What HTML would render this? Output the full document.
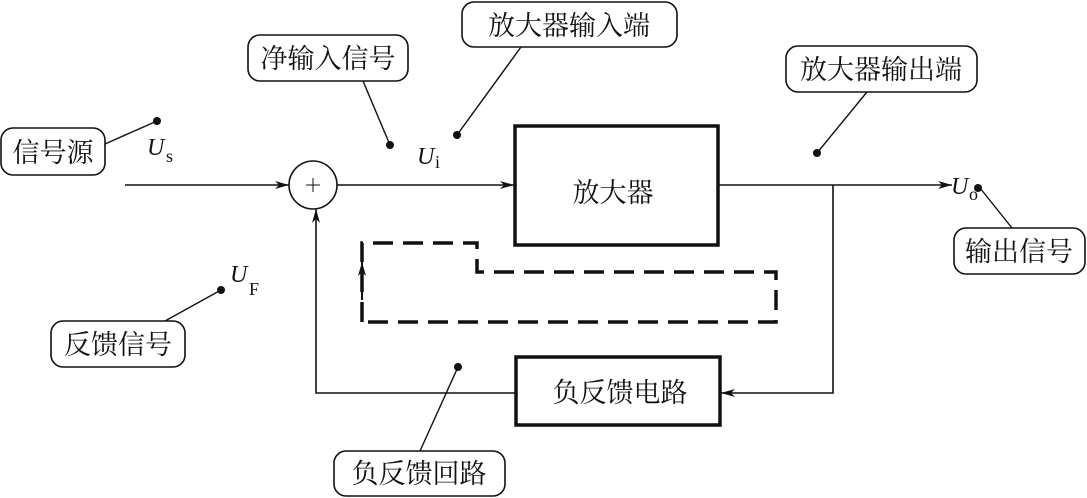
<!DOCTYPE html>
<html><head><meta charset="utf-8"><style>
html,body{margin:0;padding:0;background:#fff;}
svg{display:block;}
text{font-family:"Liberation Serif","Noto Serif CJK SC","Noto Sans CJK SC",serif;fill:#111;}
</style></head><body>
<svg width="1087" height="498" viewBox="0 0 1087 498" xmlns="http://www.w3.org/2000/svg">
<defs>
<marker id="a" viewBox="0 0 14 8" refX="14" refY="4" markerWidth="14" markerHeight="8" markerUnits="userSpaceOnUse" orient="auto">
<path d="M0,0 L14,4 L0,8 L4,4 Z" fill="#111"/></marker>
</defs>
<g stroke="#111" fill="none">
<!-- main lines -->
<line x1="125" y1="185" x2="289" y2="185" stroke-width="1.6" marker-end="url(#a)"/>
<circle cx="313" cy="185" r="24" stroke-width="1.6"/>
<line x1="306" y1="185" x2="320" y2="185" stroke-width="1"/>
<line x1="313" y1="178" x2="313" y2="192" stroke-width="1"/>
<line x1="337" y1="185" x2="514" y2="185" stroke-width="1.6" marker-end="url(#a)"/>
<rect x="515" y="126" width="203" height="119" stroke-width="3.5"/>
<line x1="718" y1="185" x2="952" y2="185" stroke-width="1.6" marker-end="url(#a)"/>
<polyline points="833,185 833,393 721,393" stroke-width="1.6" marker-end="url(#a)"/>
<rect x="516" y="357" width="204" height="68" stroke-width="3.5"/>
<polyline points="516,393 316,393 316,209" stroke-width="1.6" marker-end="url(#a)"/>
<!-- dashed loop -->
<polyline points="362,322 362,243 477,243 477,272 776,272 776,322 362,322" stroke-width="3.5" stroke-dasharray="20,10"/>
<line x1="362" y1="300" x2="362" y2="262" stroke-width="2" marker-end="url(#a)"/>
<!-- label boxes -->
<rect x="1" y="128" width="104" height="47" rx="12" stroke-width="1.6"/>
<rect x="248" y="35" width="160" height="46" rx="12" stroke-width="1.6"/>
<rect x="462" y="2" width="215" height="45" rx="12" stroke-width="1.6"/>
<rect x="786" y="46" width="191" height="46" rx="12" stroke-width="1.6"/>
<rect x="954" y="228" width="131" height="46" rx="12" stroke-width="1.6"/>
<rect x="51" y="321" width="134" height="46" rx="12" stroke-width="1.6"/>
<rect x="334" y="451" width="171" height="45" rx="12" stroke-width="1.6"/>
<!-- leaders -->
<line x1="105" y1="144" x2="157" y2="121" stroke-width="1.4"/>
<line x1="363" y1="81" x2="390" y2="145" stroke-width="1.4"/>
<line x1="521" y1="47" x2="457" y2="135" stroke-width="1.4"/>
<line x1="867" y1="92" x2="817" y2="153" stroke-width="1.4"/>
<line x1="980" y1="188" x2="1012" y2="228" stroke-width="1.4"/>
<line x1="221" y1="290" x2="165" y2="321" stroke-width="1.4"/>
<line x1="458" y1="367" x2="420" y2="451" stroke-width="1.4"/>
</g>
<g fill="#111">
<circle cx="157" cy="121" r="4"/><circle cx="390" cy="145" r="4"/><circle cx="457" cy="135" r="4"/>
<circle cx="817" cy="153" r="4"/><circle cx="978" cy="188" r="4"/><circle cx="221" cy="290" r="4"/>
<circle cx="458" cy="367" r="4"/>
</g>
<g font-size="27">
<text x="53" y="162" text-anchor="middle">信号源</text>
<text x="328" y="68" text-anchor="middle">净输入信号</text>
<text x="569" y="35" text-anchor="middle">放大器输入端</text>
<text x="881" y="79" text-anchor="middle">放大器输出端</text>
<text x="1019" y="261" text-anchor="middle">输出信号</text>
<text x="118" y="354" text-anchor="middle">反馈信号</text>
<text x="419" y="483" text-anchor="middle">负反馈回路</text>
<text x="613" y="202" text-anchor="middle">放大器</text>
<text x="620" y="402" text-anchor="middle">负反馈电路</text>
</g>
<g font-size="24" font-style="italic">
<text x="147" y="155">U</text><text x="417" y="164">U</text>
<text x="951" y="194">U</text><text x="230" y="282">U</text>
</g>
<g font-size="18">
<text x="166" y="162">s</text><text x="435" y="168">i</text>
<text x="969" y="200">o</text><text x="249" y="295">F</text>
</g>
</svg>
</body></html>
